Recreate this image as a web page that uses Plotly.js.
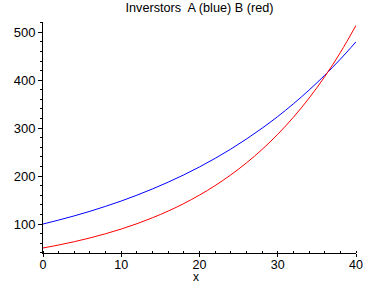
<!DOCTYPE html>
<html>
<head>
<meta charset="utf-8">
<script src="https://cdn.plot.ly/plotly-3.0.1.min.js"></script>
<style>html,body{margin:0;padding:0;background:#fff;}#chart{width:381px;height:283px;}</style>
</head>
<body>
<div id="chart"></div>
<script>
var xValues = [0, 2, 4, 6, 8, 10, 12, 14, 16, 18, 20, 22, 24, 26, 28, 30, 32, 34, 36, 38, 40];
var investorA = [100, 108.2, 117.0, 126.5, 136.9, 148.0, 160.1, 173.2, 187.3, 202.6, 219.1, 237.0, 256.3, 277.3, 299.9, 324.3, 350.8, 379.4, 410.4, 443.9, 480.1];
var investorB = [50, 56.2, 63.1, 70.9, 79.7, 89.5, 100.6, 113.1, 127.0, 142.7, 160.4, 180.2, 202.5, 227.5, 255.6, 287.2, 322.7, 362.6, 407.4, 457.7, 514.3];
var titleText = 'Inverstors  A (blue) B (red)';
var xTitle = 'x';

var font = 'Liberation Sans, Arial, sans-serif';
var traces = [
  {x: xValues, y: investorA, type: 'scatter', mode: 'lines', line: {color: '#0000ff', width: 1, shape: 'spline'}, hoverinfo: 'skip'},
  {x: xValues, y: investorB, type: 'scatter', mode: 'lines', line: {color: '#ff0000', width: 1, shape: 'spline'}, hoverinfo: 'skip'}
];
var layout = {
  width: 381, height: 283,
  margin: {l: 43, r: 25, t: 22, b: 30, pad: 0},
  paper_bgcolor: '#fff', plot_bgcolor: '#fff',
  showlegend: false,
  font: {family: font, color: '#000', size: 12},
  title: {text: titleText, font: {family: font, size: 12.7, color: '#000'}, x: 0.5, xref: 'paper', xanchor: 'center', y: 0.975, yref: 'container', yanchor: 'middle'},
  xaxis: {
    range: [0, 40], dtick: 10, tick0: 0,
    showgrid: false, zeroline: false,
    showline: true, linecolor: '#000', linewidth: 1,
    ticks: 'outside', ticklen: 3, tickcolor: '#000', tickwidth: 1,
    ticklabelstandoff: -3,
    tickfont: {family: font, size: 12.5, color: '#000'},
    minor: {dtick: 2, ticks: 'inside', ticklen: 2, tickcolor: '#000', showgrid: false}
  },
  yaxis: {
    range: [39.5, 521.5], dtick: 100, tick0: 0,
    showgrid: false, zeroline: false,
    showline: true, linecolor: '#000', linewidth: 1,
    ticks: 'outside', ticklen: 4, tickcolor: '#000', tickwidth: 1,
    tickfont: {family: font, size: 13, color: '#000'},
    minor: {dtick: 20, ticks: 'outside', ticklen: 2, tickcolor: '#000', showgrid: false}
  },
  annotations: [
    {text: xTitle, xref: 'paper', yref: 'paper', x: 0.49, y: 0, xanchor: 'center', yanchor: 'middle', yshift: -23.5, borderpad: 0, showarrow: false, font: {family: font, size: 12, color: '#000'}}
  ]
};
Plotly.newPlot('chart', traces, layout, {staticPlot: true, displayModeBar: false});
</script>
</body>
</html>
